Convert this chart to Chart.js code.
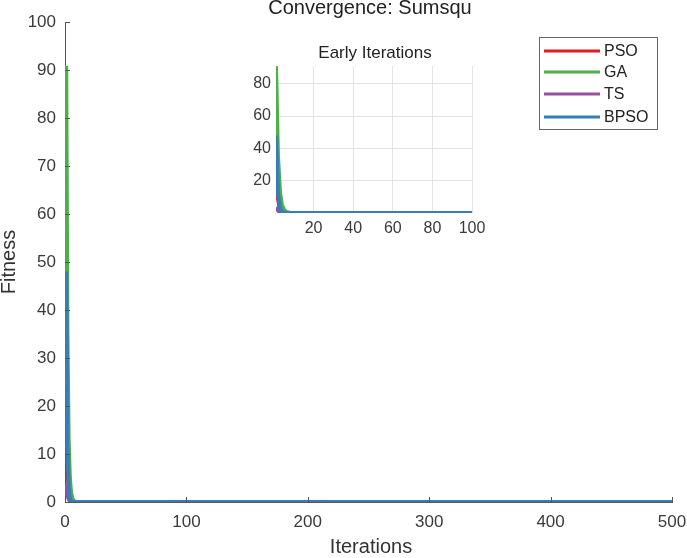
<!DOCTYPE html>
<html>
<head>
<meta charset="utf-8">
<script src="https://cdn.jsdelivr.net/npm/chart.js@4/dist/chart.umd.min.js"></script>
<style>
  html,body{margin:0;padding:0;background:#fff;}
  #wrap{position:relative;width:687px;height:558px;}
  canvas{position:absolute;left:0;top:0;}
  #inset{pointer-events:none;}
</style>
</head>
<body>
<div id="wrap">
  <canvas id="main" width="687" height="558"></canvas>
  <canvas id="inset" width="687" height="558"></canvas>
</div>
<script>
// ---- data ----
const seriesNames = ["PSO", "GA", "TS", "BPSO"];
const seriesColors = ["#e41a1c", "#4daf4a", "#984ea3", "#377eb8"];
// fitness values for iterations 1, 2, 3, ... (early part)
const psoEarly  = [27, 9, 2, 0.4, 0.08, 0.02, 0.005];
const gaEarly   = [90.9, 35, 13, 5, 2, 0.8, 0.3, 0.1, 0.04, 0.01];
const tsEarly   = [3.5, 1.5, 0.6, 0.2, 0.07, 0.02];
const bpsoEarly = [48, 12, 3, 0.8, 0.2, 0.05, 0.01];
// converged fitness at the last iteration
const finalIteration = 500;
const psoFinal = 0, gaFinal = 0, tsFinal = 0, bpsoFinal = 0;

const mainXTicks = [0, 100, 200, 300, 400, 500];
const mainYTicks = [0, 10, 20, 30, 40, 50, 60, 70, 80, 90, 100];
const insetXTicks = [20, 40, 60, 80, 100];
const insetYTicks = [20, 40, 60, 80];

const titleText = "Convergence: Sumsqu";
const insetTitle = "Early Iterations";
const xLabel = "Iterations";
const yLabel = "Fitness";

function toPoints(early, finalVal){
  const pts = early.map((v,i)=>({x:i+1, y:v}));
  pts.push({x:finalIteration, y:finalVal});
  return pts;
}
const allData = [
  toPoints(psoEarly, psoFinal),
  toPoints(gaEarly, gaFinal),
  toPoints(tsEarly, tsFinal),
  toPoints(bpsoEarly, bpsoFinal)
];
const drawOrder = [3, 2, 1, 0]; // BPSO on top

function makeDatasets(width){
  return seriesNames.map((n,i)=>({
    label:n, data:allData[i], borderColor:seriesColors[i], backgroundColor:seriesColors[i],
    borderWidth:width, pointRadius:0, tension:0, fill:false, order:drawOrder[i],
    borderJoinStyle:'round', borderCapStyle:'butt'
  }));
}

const FONT = "'Liberation Sans', Arial, Helvetica, sans-serif";
const tickColor = "#3a3a3a";

// ---- main chart ----
const mainPlugin = {
  id:'mainDecor',
  afterDraw(chart){
    const ctx = chart.ctx, a = chart.chartArea;
    const xs = chart.scales.x, ys = chart.scales.y;
    ctx.save();
    // inward ticks
    ctx.strokeStyle = '#555'; ctx.lineWidth = 1;
    ctx.beginPath();
    mainXTicks.forEach(v=>{ const p = Math.round(xs.getPixelForValue(v))+0.5; ctx.moveTo(p, a.bottom); ctx.lineTo(p, a.bottom-5); });
    mainYTicks.forEach(v=>{ const p = Math.round(ys.getPixelForValue(v))+0.5; ctx.moveTo(a.left, p); ctx.lineTo(a.left+5, p); });
    ctx.stroke();
    // title
    ctx.fillStyle = '#222';
    ctx.font = "20px " + FONT;
    ctx.textAlign = 'center'; ctx.textBaseline = 'middle';
    ctx.fillText(titleText, 370, 8);
    // axis labels
    ctx.fillStyle = '#333';
    ctx.font = "20px " + FONT;
    ctx.fillText(xLabel, 371, 547);
    ctx.translate(9, (a.top+a.bottom)/2);
    ctx.rotate(-Math.PI/2);
    ctx.fillText(yLabel, 0, 0);
    ctx.restore();
    // legend
    ctx.save();
    ctx.fillStyle = '#fff';
    ctx.fillRect(539.5, 37.5, 118, 92);
    ctx.strokeStyle = '#666'; ctx.lineWidth = 1;
    ctx.strokeRect(539.5, 37.5, 118, 92);
    const rows = [51, 72, 94, 117];
    ctx.font = "16px " + FONT; ctx.textAlign = 'left'; ctx.textBaseline = 'middle';
    seriesNames.forEach((n,i)=>{
      ctx.strokeStyle = seriesColors[i]; ctx.lineWidth = 3;
      ctx.beginPath(); ctx.moveTo(544, rows[i]); ctx.lineTo(600, rows[i]); ctx.stroke();
      ctx.fillStyle = '#222';
      ctx.fillText(n, 604, rows[i]+1);
    });
    ctx.restore();
  }
};

new Chart(document.getElementById('main'), {
  type:'line',
  data:{ datasets: makeDatasets(4) },
  options:{
    responsive:false, animation:false, devicePixelRatio:1,
    layout:{ padding:{ left:0, top:22, right:15, bottom:0 } },
    plugins:{ legend:{display:false}, tooltip:{enabled:false}, title:{display:false} },
    scales:{
      x:{ type:'linear', min:0, max:500,
          afterFit(s){ s.height = 56; s.paddingLeft = 0; s.paddingRight = 0; },
          afterBuildTicks(s){ s.ticks = mainXTicks.map(v=>({value:v})); },
          grid:{ display:false, drawTicks:false },
          border:{ display:true, color:'#555', width:1 },
          ticks:{ padding:10, color:tickColor, font:{ family:FONT, size:17 }, maxRotation:0 } },
      y:{ type:'linear', min:0, max:100,
          afterFit(s){ s.width = 65; s.paddingTop = 0; s.paddingBottom = 0; },
          afterBuildTicks(s){ s.ticks = mainYTicks.map(v=>({value:v})); },
          grid:{ display:false, drawTicks:false },
          border:{ display:true, color:'#555', width:1 },
          ticks:{ padding:9, color:tickColor, font:{ family:FONT, size:17 } } }
    }
  },
  plugins:[mainPlugin]
});

// ---- inset chart ----
const insetPlugin = {
  id:'insetDecor',
  beforeDraw(chart){
    const ctx = chart.ctx, a = chart.chartArea;
    ctx.save(); ctx.fillStyle = '#fff'; ctx.fillRect(a.left, a.top, a.right-a.left, a.bottom-a.top); ctx.restore();
  },
  afterDraw(chart){
    const ctx = chart.ctx, a = chart.chartArea;
    ctx.save();
    ctx.fillStyle = '#222';
    ctx.font = "17px " + FONT;
    ctx.textAlign = 'center'; ctx.textBaseline = 'middle';
    ctx.fillText(insetTitle, 375, 53);
    ctx.restore();
  }
};

new Chart(document.getElementById('inset'), {
  type:'line',
  data:{ datasets: makeDatasets(4) },
  options:{
    responsive:false, animation:false, devicePixelRatio:1,
    layout:{ padding:{ left:0, top:66, right:215, bottom:0 } },
    plugins:{ legend:{display:false}, tooltip:{enabled:false}, title:{display:false} },
    scales:{
      x:{ type:'linear', min:1, max:100,
          afterFit(s){ s.height = 345; s.paddingLeft = 0; s.paddingRight = 0; },
          afterBuildTicks(s){ s.ticks = insetXTicks.map(v=>({value:v})); },
          grid:{ display:true, color:'#e3e3e3', drawTicks:false },
          border:{ display:false },
          ticks:{ padding:6, color:tickColor, font:{ family:FONT, size:16 }, maxRotation:0 } },
      y:{ type:'linear', min:0, max:91,
          afterFit(s){ s.width = 276; s.paddingTop = 0; s.paddingBottom = 0; },
          afterBuildTicks(s){ s.ticks = insetYTicks.map(v=>({value:v})); },
          grid:{ display:true, color:'#e3e3e3', drawTicks:false },
          border:{ display:false },
          ticks:{ padding:5, color:tickColor, font:{ family:FONT, size:16 } } }
    }
  },
  plugins:[insetPlugin]
});
</script>
</body>
</html>
